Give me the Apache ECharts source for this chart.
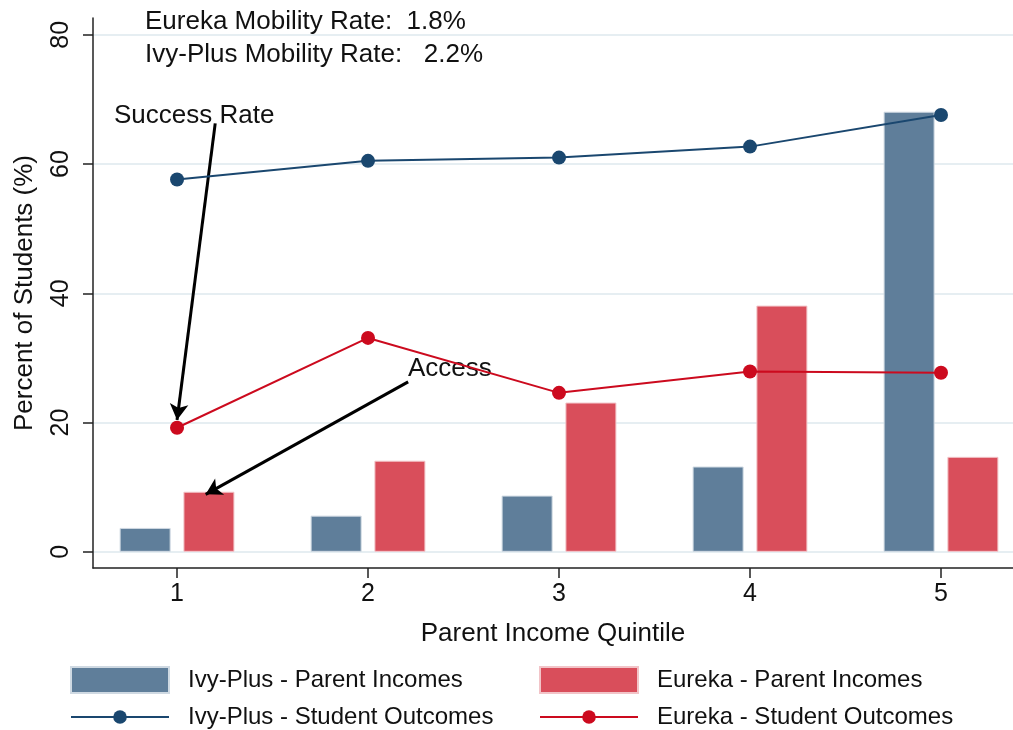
<!DOCTYPE html>
<html>
<head>
<meta charset="utf-8">
<script src="https://cdn.jsdelivr.net/npm/echarts@6/dist/echarts.min.js"></script>
<style>
  html, body { margin: 0; padding: 0; background: #fff; }
  #chart { width: 1013px; height: 730px; }
</style>
</head>
<body>
<div id="chart"></div>
<script>
var quintiles = [1, 2, 3, 4, 5];
var ivyIncomes = [3.7, 5.6, 8.7, 13.2, 68.1];
var eurekaIncomes = [9.3, 14.1, 23.1, 38.1, 14.7];
var ivyOutcomes = [57.6, 60.5, 61.0, 62.7, 67.6];
var eurekaOutcomes = [19.2, 33.1, 24.6, 27.9, 27.7];
var yTicks = [0, 20, 40, 60, 80];

var barShift = 0.167;
var font = '"Liberation Sans", Arial, sans-serif';

var ivyBar = '#5f7e9a', eurekaBar = '#d94e5b';
var ivyLine = '#1a476f', eurekaLine = '#cc0a1e';

var chart = echarts.init(document.getElementById('chart'));

function legendAt(name, left, top, h, icon) {
    return {
        data: [name], left: left, top: top, orient: 'vertical', padding: 0,
        itemWidth: 98, itemHeight: h, icon: icon,
        textStyle: { fontFamily: font, fontSize: 24, color: '#111', padding: [0, 0, 0, 14] },
        selectedMode: false
    };
}

var option = {
    animation: false,
    backgroundColor: '#fff',
    grid: { left: 93, right: 0, top: 18, bottom: 162, containLabel: false },
    xAxis: {
        type: 'value', min: 0.56, max: 5.377,
        name: 'Parent Income Quintile', nameLocation: 'middle', nameGap: 53,
        nameTextStyle: { fontFamily: font, fontSize: 26, color: '#111' },
        axisLine: { show: true, onZero: false, lineStyle: { color: '#222', width: 1.5 } },
        axisTick: { show: true, length: 10, customValues: quintiles, lineStyle: { color: '#222', width: 1.5 } },
        axisLabel: { customValues: quintiles, margin: 14, fontFamily: font, fontSize: 25, color: '#111' },
        splitLine: { show: false }
    },
    yAxis: {
        type: 'value', min: -2.5, max: 82.6,
        name: 'Percent of Students (%)', nameLocation: 'middle', nameGap: 55,
        nameTextStyle: { fontFamily: font, fontSize: 26, color: '#111' },
        axisLine: { show: true, onZero: false, lineStyle: { color: '#222', width: 1.5 } },
        axisTick: { show: true, length: 10, customValues: yTicks, lineStyle: { color: '#222', width: 1.5 } },
        axisLabel: { customValues: yTicks, rotate: 90, margin: 19, fontFamily: font, fontSize: 25, color: '#111' },
        splitLine: { show: true, lineStyle: { color: '#e6eef2', width: 2 } }
    },
    legend: [
        legendAt('Ivy-Plus - Parent Incomes', 70, 666, 26, 'rect'),
        legendAt('Ivy-Plus - Student Outcomes', 70, 705, 17),
        legendAt('Eureka - Parent Incomes', 539, 666, 26, 'rect'),
        legendAt('Eureka - Student Outcomes', 539, 705, 17)
    ],
    graphic: [
        { type: 'text', left: 145, top: 9, style: { text: 'Eureka Mobility Rate:  1.8%', fontFamily: font, fontSize: 26, fill: '#111' } },
        { type: 'text', left: 145, top: 42, style: { text: 'Ivy-Plus Mobility Rate:   2.2%', fontFamily: font, fontSize: 26, fill: '#111' } },
        { type: 'text', left: 114, top: 103, style: { text: 'Success Rate', fontFamily: font, fontSize: 26, fill: '#111' } },
        { type: 'text', left: 408, top: 356, style: { text: 'Access', fontFamily: font, fontSize: 26, fill: '#111' } }
    ],
    series: [
        {
            name: 'Ivy-Plus - Parent Incomes', type: 'bar', barWidth: 51, barGap: '-100%',
            itemStyle: { color: ivyBar, borderColor: '#cfd9e2', borderWidth: 1 },
            data: quintiles.map(function (q, i) { return [q - barShift, ivyIncomes[i]]; })
        },
        {
            name: 'Eureka - Parent Incomes', type: 'bar', barWidth: 51, barGap: '-100%',
            itemStyle: { color: eurekaBar, borderColor: '#f2c4c8', borderWidth: 1 },
            data: quintiles.map(function (q, i) { return [q + barShift, eurekaIncomes[i]]; })
        },
        {
            name: 'Ivy-Plus - Student Outcomes', type: 'line', z: 5,
            symbol: 'circle', symbolSize: 14,
            lineStyle: { color: ivyLine, width: 2 }, itemStyle: { color: ivyLine },
            data: quintiles.map(function (q, i) { return [q, ivyOutcomes[i]]; })
        },
        {
            name: 'Eureka - Student Outcomes', type: 'line', z: 5,
            symbol: 'circle', symbolSize: 14,
            lineStyle: { color: eurekaLine, width: 2 }, itemStyle: { color: eurekaLine },
            data: quintiles.map(function (q, i) { return [q, eurekaOutcomes[i]]; }),
            markLine: {
                silent: true, symbol: ['none', 'arrow'], symbolSize: [14, 16],
                label: { show: false },
                lineStyle: { color: '#000', width: 3, type: 'solid' },
                data: [
                    [{ coord: [1.2, 66.3] }, { coord: [1.0, 20.4] }],
                    [{ coord: [2.21, 26.3] }, { coord: [1.15, 8.9] }]
                ]
            }
        }
    ]
};

chart.setOption(option);
</script>
</body>
</html>
